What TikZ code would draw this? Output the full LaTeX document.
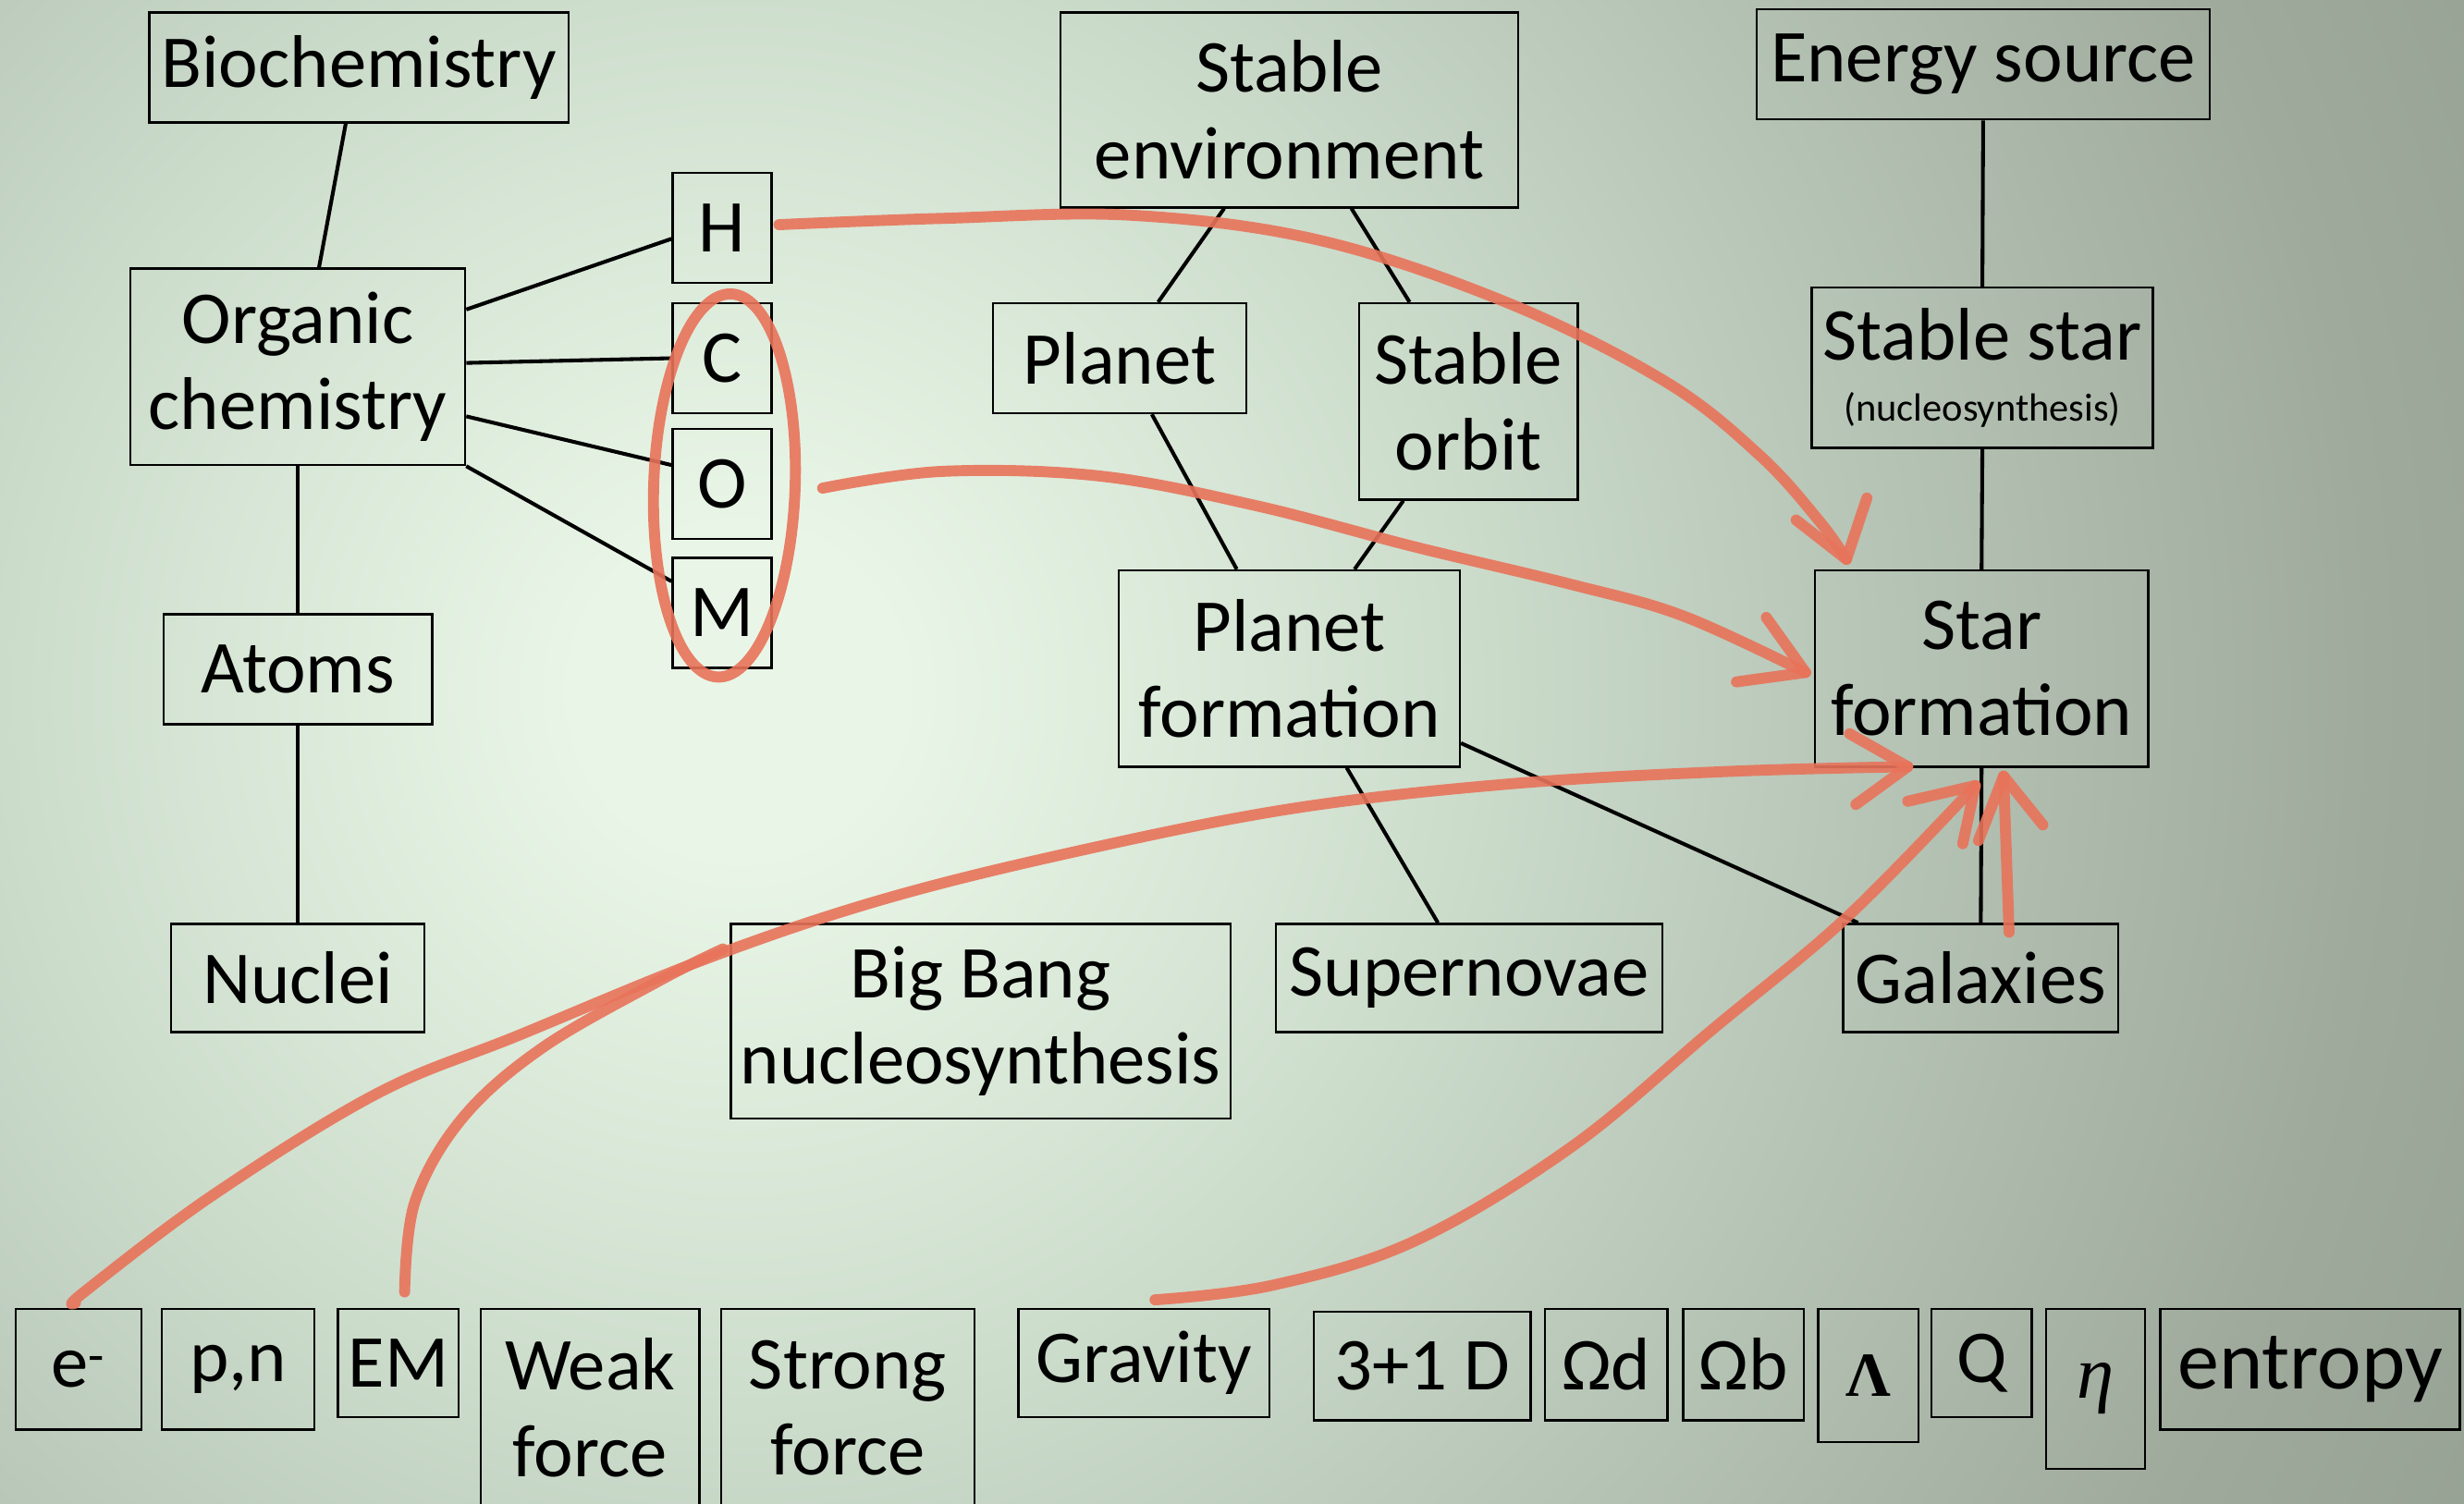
\documentclass[tikz,border=0pt]{standalone}
\usepackage{fontspec}
\setmainfont{Carlito}
\newfontfamily\serifgr{Liberation Serif}
\usetikzlibrary{calc,shapes.geometric}
\definecolor{bgin}{HTML}{E9F6E7}
\definecolor{bgmid}{HTML}{CCDCCB}
\definecolor{bgmid2}{HTML}{BCCBBC}
\definecolor{bgout}{HTML}{9FAA9C}
\definecolor{bgedge}{HTML}{939F90}
\definecolor{redpen}{HTML}{E8735A}
\pgfdeclareradialshading{bgsh}{\pgfpoint{0bp}{0bp}}{color(0bp)=(bgin); color(2bp)=(bgin); color(9bp)=(bgmid); color(12.5bp)=(bgmid2); color(20bp)=(bgout); color(25bp)=(bgedge); color(50bp)=(bgedge)}
\begin{document}
\begin{tikzpicture}[x=1pt,y=-1pt,
  bx/.style={draw=black, line width=1.4pt, inner sep=0pt, align=center, font=\fontsize{47.5}{55}\selectfont},
  ln/.style={draw=black, line width=2.4pt},
  pen/.style={draw=redpen, line width=7pt, line cap=round, line join=round, opacity=0.9},
]
\useasboundingbox (0,0) rectangle (1568,957);
\fill[bgedge] (0,0) rectangle (1568,957);
\begin{scope}
\clip (0,0) rectangle (1568,957);
\shade[shading=bgsh] (470,440) circle (1300);
\end{scope}

% left column
\node[bx, minimum width=267, minimum height=70] (bio) at (228.5,43) {Biochemistry};
\node[bx, minimum width=213, minimum height=125] (org) at (189.5,233.5) {Organic\\chemistry};
\node[bx, minimum width=63, minimum height=70] (H) at (459.5,145) {H};
\node[bx, minimum width=63, minimum height=70] (C) at (459.5,228) {C};
\node[bx, minimum width=63, minimum height=70] (O) at (459.5,308) {O};
\node[bx, minimum width=63, minimum height=70] (M) at (459.5,390) {M};
\node[bx, minimum width=171, minimum height=70] (atoms) at (189.5,426) {Atoms};
\node[bx, minimum width=161, minimum height=69] (nuclei) at (189.5,622.5) {Nuclei};

% middle column
\node[bx, minimum width=291, minimum height=124] (env) at (820.5,70) {Stable\\environment};
\node[bx, minimum width=161, minimum height=70] (planet) at (712.5,228) {Planet};
\node[bx, minimum width=139, minimum height=125] (orbit) at (934.5,255.5) {Stable\\orbit};
\node[bx, minimum width=217, minimum height=125] (pform) at (820.5,425.5) {Planet\\formation};
\node[bx, minimum width=318, minimum height=124] (bbn) at (624,650) {Big Bang\\nucleosynthesis};
\node[bx, minimum width=246, minimum height=69] (sn) at (935,622.5) {Supernovae};

% right column
\node[bx, minimum width=288, minimum height=70] (energy) at (1262,41) {Energy source};
\node[bx, minimum width=217, minimum height=102] (sstar) at (1261.5,234) {Stable star\\[-16pt]{\fontsize{25}{30}\selectfont (nucleosynthesis)}};
\node[bx, minimum width=212, minimum height=125] (sform) at (1261,425.5) {Star\\formation};
\node[bx, minimum width=175, minimum height=69] (gal) at (1260.5,622.5) {Galaxies};

% bottom row
\node[bx, minimum width=80, minimum height=77] (el) at (50,871.5) {e\textsuperscript{-}};
\node[bx, minimum width=97, minimum height=77] (pn) at (151.5,871.5) {p,n};
\node[bx, minimum width=77, minimum height=69] (em) at (253.5,867.5) {EM};
\node[bx, minimum width=139, minimum height=126] (weak) at (375.5,896) {Weak\\force};
\node[bx, minimum width=161, minimum height=126] (strong) at (539.5,896) {Strong\\force};
\node[bx, minimum width=160, minimum height=69] (grav) at (728,867.5) {Gravity};
\node[bx, minimum width=138, minimum height=69] (dim) at (905,869.5) {3+1 D};
\node[bx, minimum width=78, minimum height=71] (od) at (1022,868.5) {Ωd};
\node[bx, minimum width=77, minimum height=71] (ob) at (1109.5,868.5) {Ωb};
\node[bx, minimum width=64, minimum height=85] (lam) at (1189,875.5) {\serifgr\bfseries\fontsize{40}{40}\selectfont Λ};
\node[bx, minimum width=64, minimum height=69] (Q) at (1261,867.5) {Q};
\node[bx, minimum width=63, minimum height=102] (eta) at (1333.5,884) {\serifgr\itshape η};
\node[bx, anchor=west, inner xsep=11pt, minimum height=77, font=\fontsize{53}{55}\selectfont] (ent) at (1374,871.5) {entropy};

% black connectors
\draw[ln] ([xshift=-8.5pt]bio.south) -- ([xshift=13.5pt]org.north);
\draw[ln] ([yshift=36.5pt]org.east) -- ([yshift=-7pt]H.west);
\draw[ln] ([yshift=2.5pt]org.east) -- (C.west);
\draw[ln] ([yshift=-31.5pt]org.east) -- ([yshift=12pt]O.west);
\draw[ln] (org.south east) -- ([yshift=20pt]M.west);
\draw[ln] (org.south) -- (atoms.north);
\draw[ln] (atoms.south) -- (nuclei.north);
\draw[ln] ([xshift=-41.5pt]env.south) -- ([xshift=24.5pt]planet.north);
\draw[ln] ([xshift=39.5pt]env.south) -- ([xshift=-37.5pt]orbit.north);
\draw[ln] ([xshift=20.5pt]planet.south) -- ([xshift=-33.5pt]pform.north);
\draw[ln] ([xshift=-41.5pt]orbit.south) -- ([xshift=41.5pt]pform.north);
\draw[ln] ([xshift=36.5pt]pform.south) -- ([xshift=-20pt]sn.north);
\draw[ln] ([yshift=-47.5pt]pform.east) -- ([xshift=10pt]gal.north west);
\draw[ln] (energy.south) -- (sstar.north);
\draw[ln] (sstar.south) -- (sform.north);
\draw[ln] (sform.south) -- (gal.north);

% red annotations
\node[pen, ellipse, minimum width=90, minimum height=244, inner sep=0pt, rotate=-2] (ring) at (461,309) {};
\coordinate (t1) at (1175,356);
\coordinate (t3) at (1149,428);
\coordinate (t4) at (1214,488);
\coordinate (t6) at (1257,500);
\coordinate (t7) at (1275,494);

\draw[pen] plot[smooth, tension=0.6] coordinates {([xshift=4pt,yshift=2pt]H.east) (600,139) (720,137) (840,153) (960,193) (1060,243) (1120,290) (1158,332) (t1)};
\draw[pen] (1143,331) -- (t1) -- (1188,317);

\draw[pen] plot[smooth, tension=0.6] coordinates {([xshift=14pt]ring.east) (600,300) (700,303) (800,322) (900,348) (1000,372) (1071,392) (t3)};
\draw[pen] (1124,393) -- (t3) -- (1105,434);

\draw[pen] plot[smooth, tension=0.6] coordinates {([yshift=3pt,xshift=-2pt]el.north) (54,822) (135,761) (240,696) (330,659) (450,610) (560,573) (680,543) (820,515) (960,499) (1100,491) (t4)};
\draw[pen] (1177,467) -- (t4) -- (1181,512);

\draw[pen] plot[smooth, tension=0.6] coordinates {([yshift=10pt,xshift=4pt]em.north) (264,765) (294,712) (345,667) (420,624) (460,604)};

\draw[pen] plot[smooth, tension=0.6] coordinates {([yshift=5pt,xshift=7pt]grav.north) (810,818) (900,790) (1000,730) (1090,655) (1175,584) (t6)};
\draw[pen] (1214,510) -- (t6) -- (1249,537);

\draw[pen] ([xshift=18pt,yshift=-6pt]gal.north) -- (t7);
\draw[pen] (1259,535) -- (t7) -- (1300,525);
\end{tikzpicture}
\end{document}
